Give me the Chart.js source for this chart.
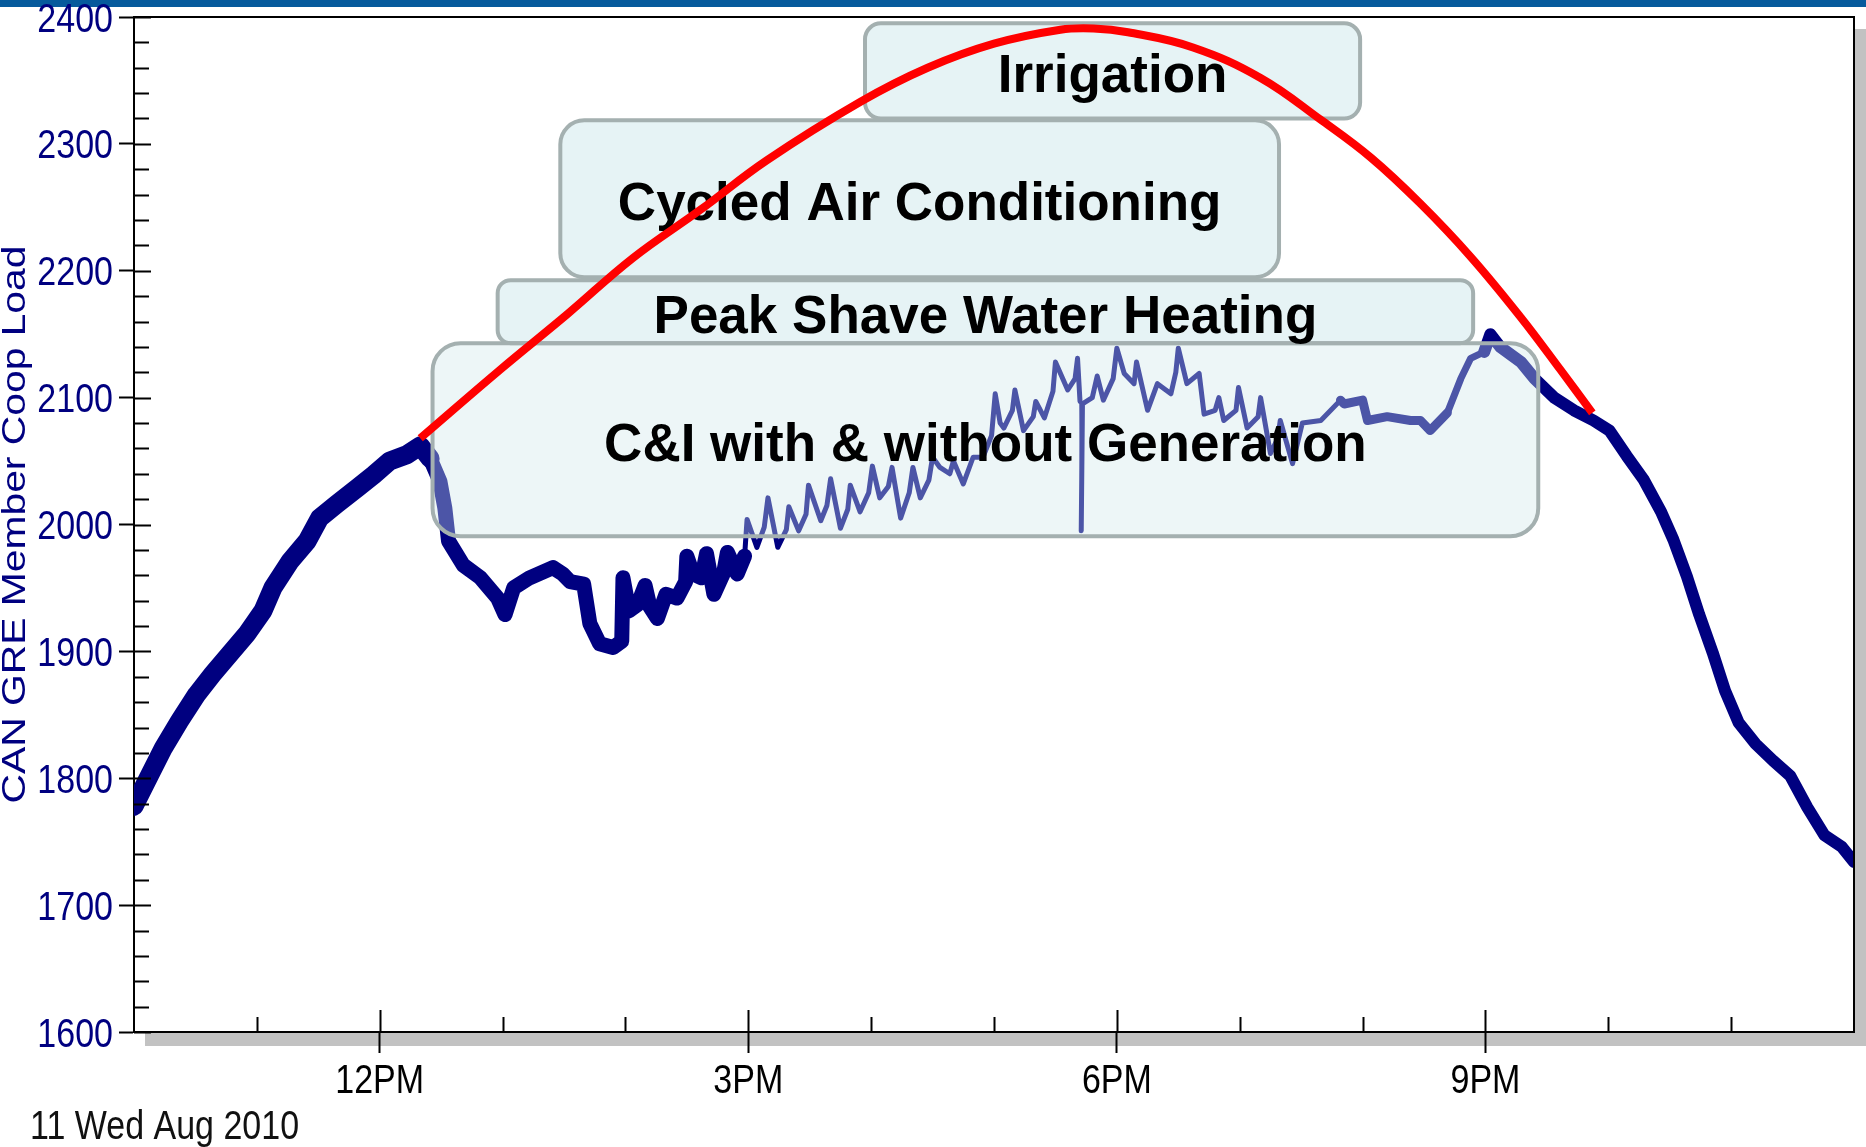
<!DOCTYPE html>
<html>
<head>
<meta charset="utf-8">
<title>CAN GRE Member Coop Load</title>
<script src="https://cdn.jsdelivr.net/npm/chart.js@4.4.0/dist/chart.umd.min.js"></script>
<style>
  html, body { margin: 0; padding: 0; background: #fff; overflow: hidden; }
</style>
</head>
<body>
<canvas id="loadChart" width="1866" height="1147"></canvas>
<script>
// load trace: hour of day (10 = 10AM, 24 = midnight) and load
const loadHours = [
  10.00, 10.13, 10.24, 10.37, 10.51, 10.64, 10.78, 10.92, 11.05, 11.13, 11.27, 11.41, 11.51, 11.65, 11.82, 11.95,
  12.08, 12.22, 12.33, 12.41, 12.49, 12.53, 12.56, 12.68, 12.82, 12.96, 13.02, 13.09, 13.22, 13.41, 13.49, 13.55,
  13.66, 13.71, 13.79, 13.90, 13.97, 13.98, 14.03, 14.10, 14.16, 14.20, 14.26, 14.33, 14.42, 14.49, 14.50, 14.55,
  14.62, 14.66, 14.72, 14.80, 14.83, 14.91, 14.97, 14.99, 15.07, 15.13, 15.16, 15.24, 15.31, 15.33, 15.41, 15.47,
  15.49, 15.59, 15.64, 15.67, 15.75, 15.81, 15.83, 15.91, 15.98, 16.01, 16.07, 16.14, 16.17, 16.24, 16.31, 16.34,
  16.40, 16.47, 16.50, 16.56, 16.64, 16.67, 16.75, 16.83, 16.91, 16.98, 17.01, 17.05, 17.08, 17.15, 17.17, 17.24,
  17.32, 17.34, 17.41, 17.48, 17.50, 17.60, 17.66, 17.68, 17.70, 17.71, 17.72, 17.80, 17.84, 17.89, 17.97, 18.00,
  18.06, 18.14, 18.16, 18.25, 18.33, 18.44, 18.48, 18.50, 18.57, 18.67, 18.71, 18.80, 18.83, 18.87, 18.97, 18.99,
  19.06, 19.15, 19.17, 19.25, 19.31, 19.33, 19.43, 19.51, 19.66, 19.82, 19.85, 20.00, 20.04, 20.20, 20.39, 20.47,
  20.55, 20.69, 20.80, 20.88, 20.99, 21.04, 21.12, 21.29, 21.40, 21.56, 21.72, 21.88, 22.01, 22.15, 22.29, 22.43,
  22.53, 22.64, 22.74, 22.85, 22.95, 23.06, 23.20, 23.34, 23.48, 23.62, 23.76, 23.90, 24.00
];
const loadValues = [
  1778, 1803, 1824, 1845, 1866, 1882, 1898, 1914, 1932, 1950, 1971, 1987, 2005, 2016, 2029, 2039,
  2050, 2055, 2062, 2052, 2034, 2013, 1987, 1968, 1958, 1942, 1929, 1950, 1958, 1966, 1961, 1955,
  1953, 1922, 1906, 1903, 1908, 1958, 1932, 1937, 1952, 1935, 1926, 1945, 1942, 1955, 1975, 1961,
  1958, 1977, 1945, 1962, 1978, 1961, 1975, 2004, 1982, 1998, 2021, 1982, 1996, 2014, 1995, 2008,
  2031, 2003, 2015, 2036, 1997, 2012, 2031, 2010, 2025, 2046, 2021, 2030, 2045, 2005, 2025, 2045,
  2021, 2035, 2053, 2045, 2040, 2050, 2032, 2053, 2053, 2070, 2103, 2080, 2076, 2090, 2106, 2074,
  2085, 2097, 2084, 2105, 2128, 2106, 2115, 2131, 2097, 1995, 2095, 2100, 2117, 2098, 2115, 2139,
  2119, 2111, 2128, 2090, 2111, 2103, 2120, 2139, 2111, 2119, 2087, 2090, 2100, 2082, 2090, 2108,
  2076, 2085, 2100, 2056, 2068, 2082, 2048, 2080, 2082, 2098, 2095, 2098, 2082, 2085, 2082, 2082,
  2074, 2088, 2115, 2131, 2136, 2150, 2140, 2128, 2115, 2100, 2090, 2082, 2074, 2054, 2035, 2010,
  1988, 1959, 1929, 1899, 1869, 1844, 1827, 1814, 1802, 1777, 1755, 1746, 1734
];

// red arc drawn over the chart
const arcHours = [12.33, 12.98, 13.53, 14.06, 14.61, 15.15, 15.91, 16.46, 17.00, 17.54, 17.81, 18.09, 18.62, 19.17, 19.66, 20.07, 20.47, 20.88, 21.29, 21.61, 21.87];
const arcValues = [2068, 2122, 2166, 2210, 2248, 2287, 2333, 2360, 2379, 2390, 2391, 2388, 2376, 2352, 2319, 2289, 2253, 2211, 2163, 2122, 2088];

const xTickHours = [12, 15, 18, 21];
const xTickLabels = ['12PM', '3PM', '6PM', '9PM'];
const yTickValues = [1600, 1700, 1800, 1900, 2000, 2100, 2200, 2300, 2400];

// load control programs, extents in hours / load units
const programNames = ['Irrigation', 'Cycled Air Conditioning', 'Peak Shave Water Heating', 'C&I with & without Generation'];
const programFrom = [15.95, 13.47, 12.96, 12.43];
const programTo = [19.98, 19.32, 20.90, 21.43];
const programHigh = [2395, 2318.6, 2192.6, 2142.9];
const programLow = [2320, 2194.9, 2142.9, 1990.8];

const NAVY = '#000080';
const FONT = "'Liberation Sans', Arial, sans-serif";
const STRETCH = 1.2; // the original screenshot is squashed horizontally
const boxStyle = [
  { fill: 'rgba(196,226,230,0.42)', radius: 16 },
  { fill: 'rgba(196,226,230,0.42)', radius: 24 },
  { fill: 'rgba(196,226,230,0.42)', radius: 13 },
  { fill: 'rgba(205,230,234,0.37)', radius: 28 }
];

// the trace is a noisy band, so width stands in for the noise
function traceWidth(h) {
  if (h > 17.695 && h < 17.715) return 1.5;
  if (h < 12.45) return 19;
  if (h < 14.95) return 15;
  if (h < 19.8) return 5;
  if (h < 20.65) return 9;
  if (h < 20.95) return 7;
  return 12;
}

function tallText(ctx, text, x, y, align) {
  ctx.save();
  ctx.translate(x, y);
  ctx.scale(1, STRETCH);
  ctx.textAlign = align;
  ctx.textBaseline = 'alphabetic';
  ctx.fillText(text, 0, 0);
  ctx.restore();
}

const overlay = {
  id: 'overlay',
  beforeDraw(chart) {
    const { ctx, width, chartArea: a } = chart;
    ctx.save();
    ctx.fillStyle = '#065a9c';
    ctx.fillRect(0, 0, width, 7);
    // drop shadow of the plot frame
    ctx.fillStyle = '#c2c2c2';
    ctx.fillRect(a.left + 11, a.bottom + 1, width - a.left - 11, 13);
    ctx.fillRect(a.right + 1, a.top + 12, width - a.right - 1, a.bottom - a.top);
    ctx.restore();
  },
  afterDatasetDraw(chart, args) {
    if (args.index !== 0) return;
    const { ctx } = chart;
    const x = chart.scales.x, y = chart.scales.y;
    ctx.save();
    programNames.forEach((name, i) => {
      const l = x.getPixelForValue(programFrom[i]);
      const r = x.getPixelForValue(programTo[i]);
      const t = y.getPixelForValue(programHigh[i]);
      const b = y.getPixelForValue(programLow[i]);
      ctx.beginPath();
      ctx.roundRect(l, t, r - l, b - t, boxStyle[i].radius);
      ctx.fillStyle = boxStyle[i].fill;
      ctx.fill();
      ctx.lineWidth = 4;
      ctx.strokeStyle = '#a4b0b0';
      ctx.stroke();
    });
    ctx.fillStyle = '#000';
    ctx.font = 'bold 53px ' + FONT;
    ctx.textAlign = 'center';
    ctx.textBaseline = 'alphabetic';
    programNames.forEach((name, i) => {
      const cx = (x.getPixelForValue(programFrom[i]) + x.getPixelForValue(programTo[i])) / 2;
      const cy = (y.getPixelForValue(programHigh[i]) + y.getPixelForValue(programLow[i])) / 2;
      ctx.fillText(name, cx, cy + 21);
    });
    ctx.restore();
  },
  afterDraw(chart) {
    const { ctx, chartArea: a } = chart;
    const x = chart.scales.x, y = chart.scales.y;
    ctx.save();
    ctx.strokeStyle = '#000';
    ctx.lineWidth = 2;
    ctx.beginPath();
    ctx.moveTo(a.left, a.top);
    ctx.lineTo(a.right, a.top);
    ctx.lineTo(a.right, a.bottom);
    ctx.stroke();
    // inner tick marks
    ctx.beginPath();
    for (let v = y.min; v <= y.max; v += 20) {
      const py = Math.round(y.getPixelForValue(v)) + 0.5;
      ctx.moveTo(a.left, py);
      ctx.lineTo(a.left + (v % 100 === 0 ? 17 : 15), py);
    }
    for (let h = x.min + 1; h < x.max; h += 1) {
      const px = Math.round(x.getPixelForValue(h)) + 0.5;
      ctx.moveTo(px, a.bottom);
      ctx.lineTo(px, a.bottom - (h % 3 === 0 ? 22 : 15));
    }
    ctx.stroke();

    // tick labels, drawn tall like the stretched original
    ctx.font = '34px ' + FONT;
    ctx.fillStyle = NAVY;
    yTickValues.forEach(v => tallText(ctx, String(v), a.left - 21, y.getPixelForValue(v) + 14.5, 'right'));
    ctx.fillStyle = '#000';
    xTickHours.forEach((h, i) => tallText(ctx, xTickLabels[i], x.getPixelForValue(h), a.bottom + 61, 'center'));
    ctx.fillStyle = '#111';
    tallText(ctx, '11 Wed Aug 2010', 30, 1139, 'left');

    // axis title
    ctx.fillStyle = NAVY;
    ctx.translate(13, (a.top + a.bottom) / 2);
    ctx.rotate(-Math.PI / 2);
    ctx.scale(STRETCH, 1);
    ctx.textAlign = 'center';
    ctx.textBaseline = 'alphabetic';
    ctx.fillText('CAN GRE Member Coop Load', 0, 12);
    ctx.restore();
  }
};

new Chart(document.getElementById('loadChart'), {
  type: 'line',
  data: {
    datasets: [
      {
        label: 'CAN GRE Member Coop Load',
        data: loadHours.map((h, i) => ({ x: h, y: loadValues[i] })),
        borderColor: NAVY,
        borderWidth: 5,
        borderJoinStyle: 'round',
        borderCapStyle: 'round',
        pointRadius: 0,
        tension: 0,
        order: 1,
        segment: { borderWidth: ctx => traceWidth((ctx.p0.parsed.x + ctx.p1.parsed.x) / 2) }
      },
      {
        label: 'Peak',
        data: arcHours.map((h, i) => ({ x: h, y: arcValues[i] })),
        borderColor: '#ff0000',
        borderWidth: 8,
        borderCapStyle: 'butt',
        pointRadius: 0,
        tension: 0.4,
        order: 0
      }
    ]
  },
  options: {
    responsive: false,
    animation: false,
    devicePixelRatio: 1,
    layout: { padding: { left: 0, top: 17, right: 12, bottom: 0 } },
    plugins: { legend: { display: false }, tooltip: { enabled: false } },
    scales: {
      x: {
        type: 'linear',
        min: 10,
        max: 24,
        afterBuildTicks: s => { s.ticks = xTickHours.map(v => ({ value: v })); },
        afterFit: s => { s.height = 115; },
        ticks: { display: false },
        grid: { drawOnChartArea: false, tickLength: 21, tickWidth: 2, tickColor: '#000' },
        border: { color: '#000', width: 2 }
      },
      y: {
        min: 1600,
        max: 2400,
        afterBuildTicks: s => { s.ticks = yTickValues.map(v => ({ value: v })); },
        afterFit: s => { s.width = 134; },
        ticks: { display: false },
        grid: { drawOnChartArea: false, tickLength: 15, tickWidth: 2, tickColor: '#000' },
        border: { color: '#000', width: 2 }
      }
    }
  },
  plugins: [overlay]
});
</script>
</body>
</html>
